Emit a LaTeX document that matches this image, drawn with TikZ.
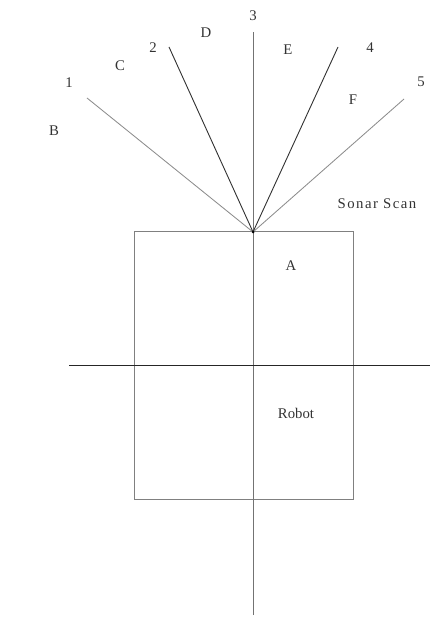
\documentclass[tikz,border=0pt]{standalone}
\usepackage{fontspec}
\setmainfont{Liberation Serif}
\newfontfamily\gesperrt[LetterSpace=10]{Liberation Serif}
\usetikzlibrary{calc}
\tikzset{
  achse/.style={draw=black!55,line width=0.6pt},
  strahl/.style={draw=black!45,line width=0.6pt},
  strahlhart/.style={draw=black!80,line width=0.65pt},
  marke/.style={font=\fontsize{10.5}{12}\selectfont,text=black!80,inner sep=0pt},
}

\begin{document}
\begin{tikzpicture}[x=0.025cm,y=-0.025cm]
  \useasboundingbox (0,0) rectangle (430,622);
  % robot body
  \node[draw=black!50,line width=0.7pt,minimum width=5.45cm,minimum height=6.675cm,inner sep=0pt] (robot) at (244,365.5) {};
  \coordinate (sonar) at (253,232);
  \coordinate (yoben) at (253,32);
  \coordinate (yunten) at (253,615);
  \coordinate (xlinks) at (69,365);
  \coordinate (xrechts) at (430,365);
  \coordinate (s1) at (87,98);
  \coordinate (s2) at (169,47);
  \coordinate (s4) at (338,47);
  \coordinate (s5) at (404,99);
  % axes
  \draw[achse] (yunten) -- (yoben);
  \draw[draw=black!85,line width=0.7pt] (xlinks) -- (xrechts);
  % sonar rays
  \draw[strahl] (sonar) -- (s1);
  \draw[strahlhart] (sonar) -- (s2);
  \draw[strahlhart] (sonar) -- (s4);
  \draw[strahl] (sonar) -- (s5);
  \fill[black] (sonar) circle (1.5);
  % labels
  \node[marke] (n1) at (69,83) {1};
  \node[marke] (n2) at (153,48) {2};
  \node[marke] (n3) at (253,16) {3};
  \node[marke] (n4) at (370,48) {4};
  \node[marke] (n5) at (421,82) {5};
  \node[marke] (lB) at (54,131) {B};
  \node[marke] (lC) at (120,66) {C};
  \node[marke] (lD) at (206,33) {D};
  \node[marke] (lE) at (288,50) {E};
  \node[marke] (lF) at (353,100) {F};
  \node[marke] (lA) at (291,266) {A};
  \node[marke,font=\gesperrt\fontsize{10.5}{12}\selectfont] (lsonar) at (377,204) {Sonar Scan};
  \node[marke] (lrobot) at (296,413) {Robot};
\end{tikzpicture}
\end{document}
